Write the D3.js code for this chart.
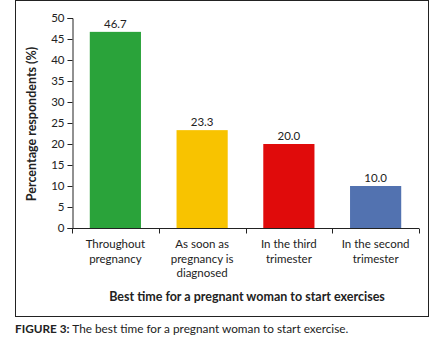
<!DOCTYPE html>
<html>
<head>
<meta charset="utf-8">
<script src="https://d3js.org/d3.v7.min.js"></script>
<style>
  body { margin: 0; background: #fff; }
  svg text { font-family: Lato, "Open Sans", sans-serif; fill: #222; }
</style>
</head>
<body>
<svg id="chart" width="443" height="348"></svg>
<script>
const categories = [
  ["Throughout", "pregnancy"],
  ["As soon as", "pregnancy is", "diagnosed"],
  ["In the third", "trimester"],
  ["In the second", "trimester"]
];
const values = [46.7, 23.3, 20.0, 10.0];
const colors = ["#2aa33a", "#f8c300", "#e00b0b", "#5272b0"];
const yTicks = [0, 5, 10, 15, 20, 25, 30, 35, 40, 45, 50];

const svg = d3.select("#chart");

// outer frame
svg.append("rect")
    .attr("x", 15.5).attr("y", 0.5)
    .attr("width", 413).attr("height", 316)
    .attr("fill", "none").attr("stroke", "#222").attr("stroke-width", 1);

const x = d3.scaleBand()
    .domain(d3.range(values.length))
    .range([72, 419])
    .paddingInner(0.41)
    .paddingOuter(0.205);

const y = d3.scaleLinear().domain([0, 50]).range([228, 18]);

const yAxis = svg.append("g")
    .attr("transform", "translate(72.5,0)")
    .call(d3.axisLeft(y).tickValues(yTicks).tickSize(5).tickPadding(3));
yAxis.select(".domain").attr("stroke", "#222");
yAxis.selectAll(".tick line").attr("stroke", "#222");
yAxis.selectAll("text").style("font-size", "11.5px").attr("fill", "#222");

// x axis line with category separators
const xAxis = svg.append("g").attr("transform", "translate(0,228.5)");
xAxis.append("line")
    .attr("x1", 72).attr("x2", 419)
    .attr("stroke", "#222");
const edges = d3.range(values.length + 1).map(i => 72 + i * x.step());
xAxis.selectAll(".sep")
    .data(edges)
    .join("line")
    .attr("x1", d => Math.round(d) + 0.5).attr("x2", d => Math.round(d) + 0.5)
    .attr("y1", 0).attr("y2", 5)
    .attr("stroke", "#222");

svg.selectAll(".bar")
    .data(values)
    .join("rect")
    .attr("x", (d, i) => x(i))
    .attr("y", d => y(d))
    .attr("width", x.bandwidth())
    .attr("height", d => y(0) - y(d))
    .attr("fill", (d, i) => colors[i]);

svg.selectAll(".val")
    .data(values)
    .join("text")
    .attr("x", (d, i) => x(i) + x.bandwidth() / 2)
    .attr("y", d => y(d) - 4)
    .attr("text-anchor", "middle")
    .style("font-size", "11.5px")
    .text(d => d.toFixed(1));

const labels = svg.selectAll(".cat")
    .data(categories)
    .join("text")
    .attr("text-anchor", "middle")
    .style("font-size", "11.5px");
labels.selectAll("tspan")
    .data((d, i) => d.map(t => ({ t, i })))
    .join("tspan")
    .attr("x", d => x(d.i) + x.bandwidth() / 2)
    .attr("y", (d, j) => 248 + j * 14.5)
    .text(d => d.t);

svg.append("text")
    .attr("transform", "translate(36,124) rotate(-90)")
    .attr("text-anchor", "middle")
    .style("font-size", "12.5px")
    .style("font-weight", "bold")
    .text("Percentage respondents (%)");

svg.append("text")
    .attr("x", 247).attr("y", 301)
    .attr("text-anchor", "middle")
    .style("font-size", "12.5px")
    .style("font-weight", "bold")
    .text("Best time for a pregnant woman to start exercises");

const cap = svg.append("text")
    .attr("x", 15).attr("y", 333)
    .style("font-size", "11.8px");
cap.append("tspan").style("font-weight", "bold").text("FIGURE 3:");
cap.append("tspan").text(" The best time for a pregnant woman to start exercise.");
</script>
</body>
</html>
